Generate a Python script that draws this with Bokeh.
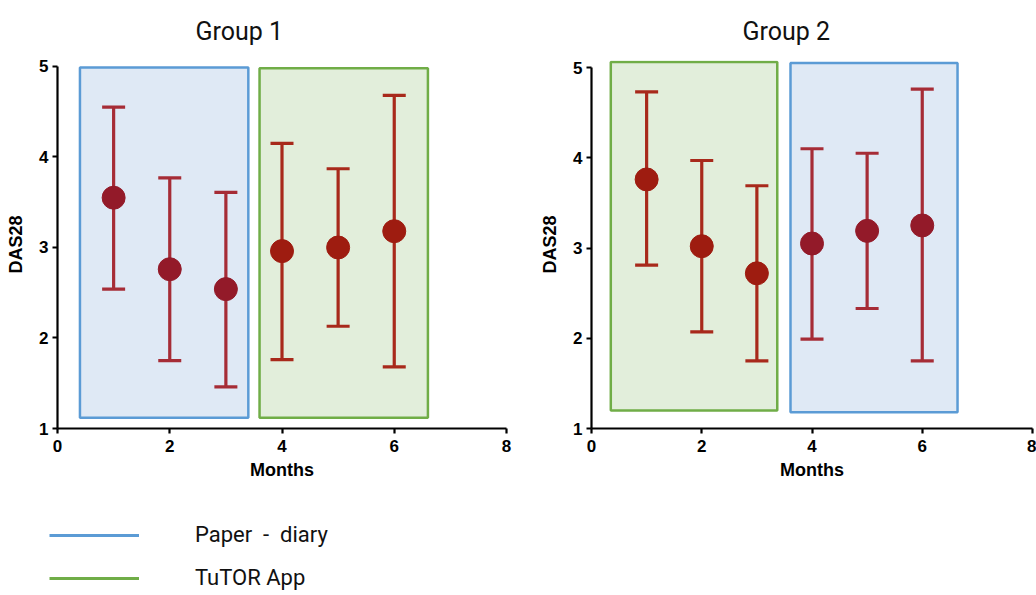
from bokeh.plotting import figure
from bokeh.models import Range1d, FixedTicker, ColumnDataSource, Legend, LegendItem
from bokeh.layouts import column, row
from bokeh.embed import file_html
from bokeh.resources import INLINE

# ---------------- data ----------------
months = [1, 2, 3, 4, 5, 6]

g1_mean = [3.55, 2.76, 2.54, 2.96, 3.00, 3.18]
g1_upper = [4.55, 3.77, 3.61, 4.15, 3.87, 4.68]
g1_lower = [2.54, 1.75, 1.46, 1.76, 2.13, 1.68]

g2_mean = [3.76, 3.02, 2.72, 3.05, 3.19, 3.25]
g2_upper = [4.73, 3.97, 3.69, 4.10, 4.05, 4.76]
g2_lower = [2.81, 2.07, 1.75, 1.99, 2.33, 1.75]

# phase shading spans (month ranges and DAS28 ranges)
g1_paper_span = (0.4, 3.4, 1.12, 4.99)
g1_app_span = (3.6, 6.6, 1.12, 4.98)
g2_app_span = (0.35, 3.37, 1.20, 5.06)
g2_paper_span = (3.61, 6.64, 1.18, 5.05)

x_ticks = [0, 2, 4, 6, 8]
y_ticks = [1, 2, 3, 4, 5]
titles = ["Group  1", "Group  2"]
legend_labels = ["Paper  -  diary", "TuTOR App"]

# ---------------- styles ----------------
BLUE_LINE, BLUE_FILL = "#5b9bd5", "#dfe9f5"
GREEN_LINE, GREEN_FILL = "#70ad47", "#e2eedb"
COND = "Roboto, 'Noto Sans', sans-serif"
ARIAL = "'Liberation Sans', Arial, sans-serif"


def panel(title, mean, upper, lower, spans, width, y_top, border_left, border_right,
          title_offset):
    p = figure(width=width, height=490, output_backend="svg", toolbar_location=None,
               x_range=Range1d(0, 8), y_range=Range1d(1, y_top),
               min_border_left=border_left, min_border_right=border_right,
               min_border_top=60, min_border_bottom=62, title=title)
    p.outline_line_color = None
    p.grid.visible = False
    p.background_fill_color = "white"
    p.border_fill_color = "white"

    p.title.text_font = COND
    p.title.text_font_size = "25px"
    p.title.text_font_style = "normal"
    p.title.text_color = "#111111"
    p.title.align = "left"
    p.title.vertical_align = "middle"
    p.title.offset = title_offset
    p.title.standoff = 28

    for (l, r, b, t), lc, fc in spans:
        p.quad(left=[l], right=[r], bottom=[b], top=[t],
               fill_color=fc, line_color=lc, line_width=2.5)

    cols_m = []
    cols_e = []
    for m in months:
        in_blue = any(l <= m <= r for (l, r, b, t), lc, fc in spans if lc == BLUE_LINE)
        cols_m.append("#931a29" if in_blue else "#9e1c10")
        cols_e.append("#a62c36" if in_blue else "#a8291b")

    src = ColumnDataSource(dict(x=months, mean=mean, upper=upper, lower=lower,
                                cm=cols_m, ce=cols_e))
    p.segment(x0="x", y0="lower", x1="x", y1="upper", line_color="ce",
              line_width=3.2, source=src)
    p.scatter(x="x", y="upper", marker="dash", size=23, line_color="ce",
              line_width=3.2, source=src)
    p.scatter(x="x", y="lower", marker="dash", size=23, line_color="ce",
              line_width=3.2, source=src)
    p.scatter(x="x", y="mean", size=23, fill_color="cm", line_color="cm",
              source=src)

    for ax in (p.xaxis[0], p.yaxis[0]):
        ax.axis_line_width = 2.2
        ax.axis_line_color = "black"
        ax.major_tick_line_width = 2.2
        ax.major_tick_line_color = "black"
        ax.major_tick_out = 5
        ax.major_tick_in = 0
        ax.minor_tick_line_color = None
        ax.major_label_text_font = ARIAL
        ax.major_label_text_font_style = "bold"
        ax.major_label_text_font_size = "17px"
        ax.major_label_text_color = "black"
        ax.axis_label_text_font = ARIAL
        ax.axis_label_text_font_style = "bold"
        ax.axis_label_text_font_size = "18px"
        ax.axis_label_text_color = "black"
    p.xaxis.ticker = FixedTicker(ticks=x_ticks)
    p.yaxis.ticker = FixedTicker(ticks=y_ticks)
    p.yaxis.bounds = (1, 5)
    p.xaxis.axis_label = "Months"
    p.yaxis.axis_label = "DAS28"
    p.xaxis.major_label_standoff = 6
    p.xaxis.axis_label_standoff = 5
    p.yaxis.major_label_standoff = 4
    p.yaxis.axis_label_standoff = 10
    return p


p1 = panel(titles[0], g1_mean, g1_upper, g1_lower,
           [(g1_paper_span, BLUE_LINE, BLUE_FILL), (g1_app_span, GREEN_LINE, GREEN_FILL)],
           width=528, y_top=5.066, border_left=57, border_right=22, title_offset=138)
p2 = panel(titles[1], g2_mean, g2_upper, g2_lower,
           [(g2_app_span, GREEN_LINE, GREEN_FILL), (g2_paper_span, BLUE_LINE, BLUE_FILL)],
           width=508, y_top=5.078, border_left=63, border_right=4, title_offset=151)

# ---------------- legend strip ----------------
leg = figure(width=1036, height=105, output_backend="svg", toolbar_location=None,
             x_range=Range1d(0, 1), y_range=Range1d(0, 1),
             min_border=0, min_border_left=0, min_border_right=0,
             min_border_top=0, min_border_bottom=0)
leg.axis.visible = False
leg.grid.visible = False
leg.outline_line_color = None
r_blue = leg.line(x=[-10, -9], y=[-10, -9], line_color=BLUE_LINE, line_width=3)
r_green = leg.line(x=[-10, -9], y=[-10, -9], line_color=GREEN_LINE, line_width=3)
legend = Legend(items=[LegendItem(label=legend_labels[0], renderers=[r_blue]),
                       LegendItem(label=legend_labels[1], renderers=[r_green])],
                location=(49, 5), orientation="vertical",
                glyph_width=90, glyph_height=20, label_height=20,
                label_standoff=56, spacing=18, padding=0, margin=0,
                border_line_color=None, background_fill_alpha=0,
                label_text_font=COND, label_text_font_size="22px",
                label_text_color="#111111")
leg.add_layout(legend)

layout = column(row(p1, p2), leg)
open("out.html", "w").write(file_html(layout, INLINE))
